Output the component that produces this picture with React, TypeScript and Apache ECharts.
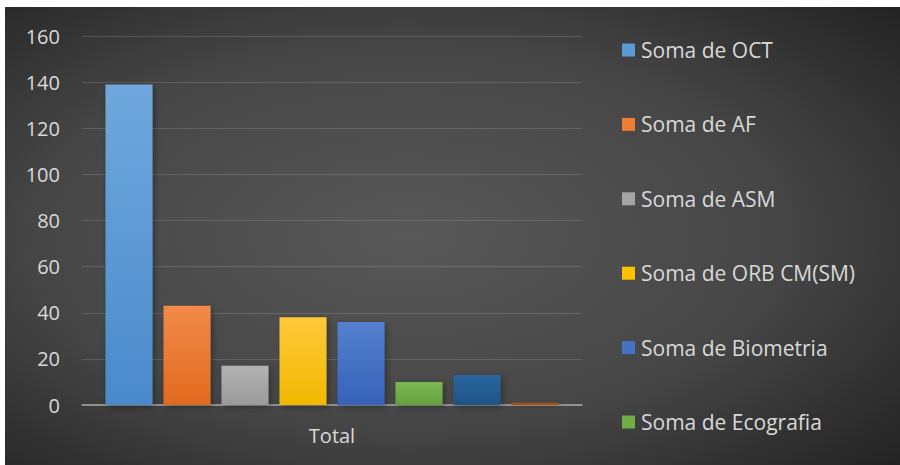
import React, { useEffect, useRef } from "react";
import * as echarts from "echarts";

const categories = ["Total"];
const seriesNames = [
  "Soma de OCT",
  "Soma de AF",
  "Soma de ASM",
  "Soma de ORB CM(SM)",
  "Soma de Biometria",
  "Soma de Ecografia",
  "Soma de Série 7",
  "Soma de Série 8",
];
const seriesValues = [139, 43, 17, 38, 36, 10, 13, 1];
const legendShown = seriesNames.slice(0, 6);
const yTicks = [0, 20, 40, 60, 80, 100, 120, 140, 160];

const colorsTop = ["#6fa8de", "#f28a4a", "#b3b3b3", "#ffc83a", "#5580cf", "#7cb854", "#2b66a0", "#b0551a"];
const colorsBottom = ["#4a8acb", "#e06a1e", "#9a9a9a", "#f0b800", "#3662b8", "#63a13c", "#1f5485", "#9e480e"];
const legendColors = ["#5b9bd5", "#ed7d31", "#a5a5a5", "#ffc000", "#4472c4", "#70ad47"];

export default function App() {
  const ref = useRef<HTMLDivElement>(null);
  useEffect(() => {
    document.body.style.margin = "0";
    const chart = echarts.init(ref.current!, null, { renderer: "svg" });
    const font = "'Open Sans', sans-serif";
    chart.setOption({
      animation: false,
      backgroundColor: {
        type: "radial",
        x: 0.45,
        y: 0.5,
        r: 0.75,
        colorStops: [
          { offset: 0, color: "#585858" },
          { offset: 0.55, color: "#464646" },
          { offset: 1, color: "#222222" },
        ],
      },
      grid: { left: 77, right: 318, top: 29, bottom: 60 },
      legend: {
        data: legendShown.map((n, i) => ({ name: n, itemStyle: { color: legendColors[i] } })),
        orient: "vertical",
        left: 617,
        top: 32,
        padding: 0,
        itemWidth: 13,
        itemHeight: 13,
        itemGap: 52.4,
        icon: "rect",
        textStyle: { color: "#d9d9d9", fontSize: 21, fontFamily: font, lineHeight: 22, padding: [0, 0, 0, 1] },
        selectedMode: false,
      },
      xAxis: {
        type: "category",
        data: categories,
        axisLine: { lineStyle: { color: "#a6a6a6", width: 1.5 } },
        axisTick: { show: false },
        axisLabel: { color: "#d9d9d9", fontSize: 20, fontFamily: font, margin: 20 },
      },
      yAxis: {
        type: "value",
        min: yTicks[0],
        max: yTicks[yTicks.length - 1],
        interval: 20,
        axisLine: { show: false },
        axisTick: { show: false },
        splitLine: { lineStyle: { color: "rgba(255,255,255,0.14)", width: 1 } },
        axisLabel: { color: "#d9d9d9", fontSize: 20, fontFamily: font, margin: 22 },
      },
      series: seriesNames.map((name, i) => ({
        name,
        type: "bar",
        data: [seriesValues[i]],
        barWidth: 47,
        barGap: "23.4%",
        itemStyle: {
          color: {
            type: "linear",
            x: 0,
            y: 0,
            x2: 0,
            y2: 1,
            colorStops: [
              { offset: 0, color: colorsTop[i] },
              { offset: 1, color: colorsBottom[i] },
            ],
          },
          shadowColor: "rgba(0,0,0,0.35)",
          shadowBlur: 6,
          shadowOffsetX: 2,
          shadowOffsetY: 2,
        },
      })),
    });
    return () => chart.dispose();
  }, []);
  return (
    <div style={{ width: 900, height: 465, background: "#ffffff", position: "relative" }}>
      <div ref={ref} style={{ position: "absolute", left: 5, top: 7, width: 895, height: 458 }} />
    </div>
  );
}
